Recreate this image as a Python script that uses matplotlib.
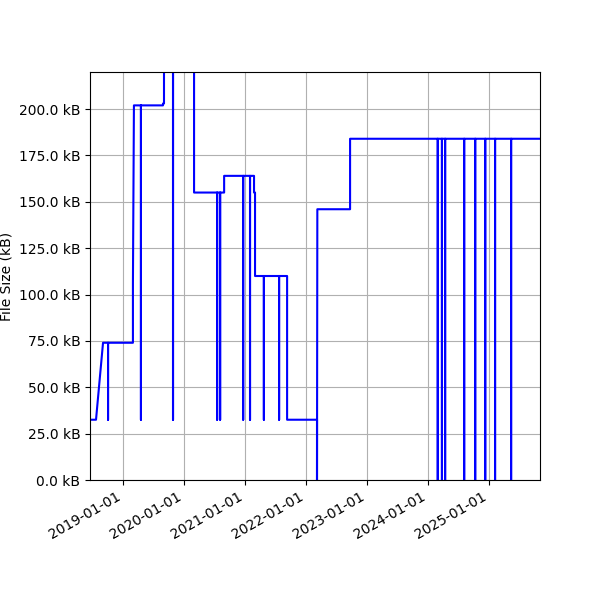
import matplotlib
matplotlib.use("Agg")
import matplotlib.pyplot as plt
import matplotlib.dates as mdates
from matplotlib.ticker import FuncFormatter
import pandas as pd

dates = ["2018-06-17","2018-07-23","2018-09-03","2018-10-03","2018-10-03","2018-10-03",
         "2019-03-01","2019-03-01","2019-03-07","2019-04-18","2019-04-18","2019-04-18",
         "2019-08-28","2019-08-28","2019-09-03","2019-09-03","2019-10-27","2019-10-27","2019-10-27",
         "2020-03-01","2020-03-01","2020-07-17","2020-07-17","2020-07-17","2020-08-04","2020-08-04","2020-08-04",
         "2020-08-28","2020-08-28","2020-12-20","2020-12-20","2020-12-20","2021-01-30","2021-01-30","2021-01-30",
         "2021-02-23","2021-02-23","2021-03-01","2021-03-01","2021-04-23","2021-04-23","2021-04-23",
         "2021-07-23","2021-07-23","2021-07-23","2021-09-09","2021-09-09","2022-03-07","2022-03-07","2022-03-09",
         "2022-09-21","2022-09-21",
         "2024-02-28","2024-02-28","2024-02-28","2024-03-24","2024-03-24","2024-03-24","2024-04-12","2024-04-12","2024-04-12",
         "2024-08-04","2024-08-04","2024-08-04","2024-10-09","2024-10-09","2024-10-09","2024-12-08","2024-12-08","2024-12-08",
         "2025-02-05","2025-02-05","2025-02-05","2025-05-12","2025-05-12","2025-05-12","2025-11-01"]
sizes = [32.5,32.5,74,74,32.5,74,
         74,106,202,202,32.5,202,
         202,203,203,250,250,32.5,250,
         250,155,155,32.5,155,155,32.5,155,
         155,164,164,32.5,164,164,32.5,164,
         164,155,155,110,110,32.5,110,
         110,32.5,110,110,32.5,32.5,0,146,
         146,184,
         184,0,184,184,0,184,184,0,184,
         184,0,184,184,0,184,184,0,184,
         184,0,184,184,0,184,184]

x = pd.to_datetime(dates)
fig = plt.figure(figsize=(6, 6), dpi=100)
ax = fig.add_axes([0.15, 0.2, 0.75, 0.68])
ax.plot(x, sizes, color="blue", lw=1.5)
ax.set_ylim(0, 220)
ax.set_xlim(pd.Timestamp("2018-06-17"), pd.Timestamp("2025-11-01"))
ax.yaxis.set_major_formatter(FuncFormatter(lambda v, p: f"{v:.1f} kB"))
ax.xaxis.set_major_locator(mdates.YearLocator())
ax.xaxis.set_major_formatter(mdates.DateFormatter("%Y-%m-%d"))
for lbl in ax.get_xticklabels():
    lbl.set_rotation(30)
    lbl.set_ha("right")
ax.set_ylabel("File Size (kB)")
ax.grid(True)
fig.savefig("out.png")
